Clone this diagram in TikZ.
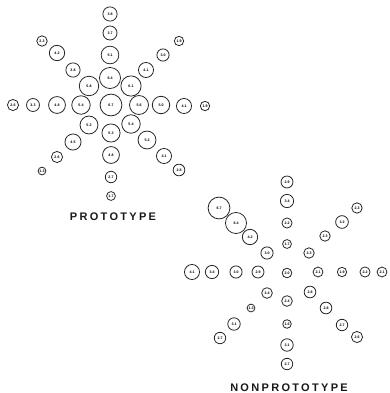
\documentclass[tikz,border=0pt]{standalone}
\usepackage{fontspec}
\setmainfont{Liberation Sans}
\newfontfamily\titlefont[LetterSpace=21]{Liberation Sans}
\begin{document}
\begin{tikzpicture}[x=1pt,y=-1pt,
  bub/.style={circle, draw=black!85, line width=0.8pt, inner sep=0pt,
    minimum size={2.6*#1+4.4},
    font=\bfseries\fontsize{3.6}{4}\selectfont},
  caption/.style={font=\titlefont\bfseries\fontsize{11}{12}\selectfont, text=black!90, inner sep=0pt}]
\useasboundingbox (0,0) rectangle (389,393);

% prototype star
\foreach \n/\x/\y/\v in {
  p1/110/14/3.8, p2/110/33/3.7, p3/110/55/5.1, p4/110/78/6.4, p5/111/105/6.7,
  p6/42/41/2.3, p7/57/53/4.2, p8/73/70/3.8, p9/89/86/5.8,
  p10/131/86/6.1, p11/146/70/4.1, p12/163/55/3.0, p13/179/41/1.9,
  p14/13/105/2.6, p15/33/105/3.3, p16/57/105/4.8, p17/81/105/5.4,
  p18/139/105/5.6, p19/161/105/5.0, p20/184/106/4.1, p21/205/106/1.9,
  p22/89/125/5.2, p23/111/133/5.3, p24/131/124/5.4,
  p25/73/142/4.5, p26/147/140/5.2, p27/57/157/2.6, p28/111/155/4.8,
  p29/164/156/4.1, p30/42/171/1.3, p31/179/170/2.8,
  p32/111/177/2.7, p33/111/196/1.7}
  \node[bub=\v] (\n) at (\x,\y) {\v};
\node[caption] (ptitle) at (113,217) {PROTOTYPE};

% nonprototype star
\foreach \n/\x/\y/\v in {
  n1/287/182/2.9, n2/287/201/3.4, n3/287/223/2.2, n4/287/244/1.7, n5/287/273/2.0,
  n6/219/208/6.7, n7/236/223/6.4, n8/250/237/4.2, n9/267/253/3.0,
  n10/357/208/2.3, n11/342/222/3.2, n12/325/236/2.3, n13/309/253/2.3,
  n14/192/272/4.1, n15/212/272/3.4, n16/236/272/3.0, n17/258/272/2.9,
  n18/318/272/2.1, n19/342/272/1.9, n20/365/272/2.2, n21/382/272/2.1,
  n22/267/293/2.4, n23/287/301/2.4, n24/310/292/2.8,
  n25/251/308/1.3, n26/326/308/2.8,
  n27/234/324/3.1, n28/287/324/1.6, n29/342/325/2.7,
  n30/220/338/2.7, n31/357/337/2.6,
  n32/287/345/3.1, n33/287/364/2.7}
  \node[bub=\v] (\n) at (\x,\y) {\v};
\node[caption] (ntitle) at (289,388) {NONPROTOTYPE};
\end{tikzpicture}
\end{document}
